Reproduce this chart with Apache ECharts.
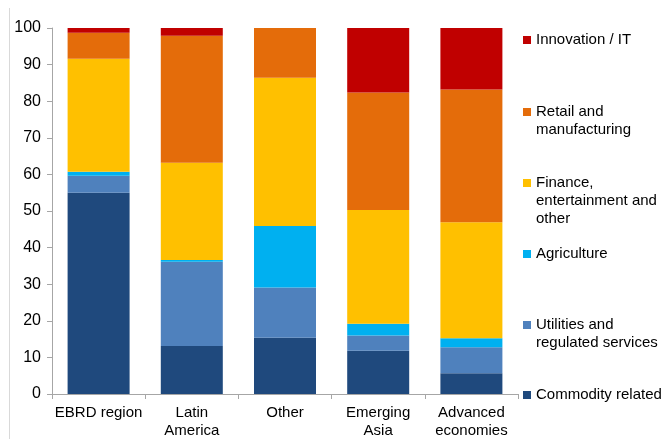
<!DOCTYPE html>
<html>
<head>
<meta charset="utf-8">
<script src="https://cdn.jsdelivr.net/npm/echarts@6/dist/echarts.min.js"></script>
<style>html,body{margin:0;padding:0;background:#fff}#c{width:667px;height:439px}</style>
</head>
<body>
<div id="c"></div>
<script>
var categories = ['EBRD region', 'Latin\nAmerica', 'Other', 'Emerging\nAsia', 'Advanced\neconomies'];
var commodity = [55.0, 13.1, 15.4, 11.8, 5.7];
var utilities = [4.6, 23.0, 13.7, 4.2, 7.1];
var agriculture = [1.1, 0.5, 16.8, 3.2, 2.4];
var finance = [30.9, 26.6, 40.5, 31.1, 31.7];
var retail = [7.1, 34.7, 13.6, 32.1, 36.3];
var innovation = [1.3, 2.1, 0, 17.6, 16.8];
var yTicks = [0, 10, 20, 30, 40, 50, 60, 70, 80, 90, 100];

var seriesDefs = [
  {name: 'Commodity related', label: 'Commodity related', data: commodity, color: '#1F497D', lines: 1, top: 386},
  {name: 'Utilities and regulated services', label: 'Utilities and\nregulated services', data: utilities, color: '#4F81BD', lines: 2, top: 298},
  {name: 'Agriculture', label: 'Agriculture', data: agriculture, color: '#00B0F0', lines: 1, top: 245},
  {name: 'Finance, entertainment and other', label: 'Finance,\nentertainment and\nother', data: finance, color: '#FFC000', lines: 3, top: 138},
  {name: 'Retail and manufacturing', label: 'Retail and\nmanufacturing', data: retail, color: '#E46C0A', lines: 2, top: 85},
  {name: 'Innovation / IT', label: 'Innovation / IT', data: innovation, color: '#C00000', lines: 1, top: 31}
];

var LH = 18;
var FONT = 'Liberation Sans';
var chart = echarts.init(document.getElementById('c'));
var legends = seriesDefs.map(function (s) {
  var pre = '';
  for (var i = 1; i < s.lines; i++) pre += ' \n';
  return {
    data: [s.name],
    left: 523,
    top: s.top,
    padding: 0,
    itemWidth: 8,
    itemHeight: 8,
    itemGap: 0,
    icon: 'rect',
    selectedMode: false,
    formatter: function () { return pre + s.label; },
    textStyle: {fontFamily: FONT, fontSize: 15, color: '#000', lineHeight: LH},
    itemStyle: {borderWidth: 0}
  };
});

chart.setOption({
  animation: false,
  backgroundColor: '#fff',
  textStyle: {fontFamily: FONT},
  grid: {left: 52, right: 149, top: 28, bottom: 45, containLabel: false, outerBoundsMode: 'none'},
  legend: legends,
  graphic: [{
    type: 'line', shape: {x1: 9.5, y1: 8, x2: 9.5, y2: 439},
    style: {stroke: '#D9D9D9', lineWidth: 1}, silent: true
  }],
  xAxis: {
    type: 'category',
    data: categories,
    axisLine: {lineStyle: {color: '#A6A6A6', width: 1}},
    axisTick: {show: true, length: 5, alignWithLabel: false, lineStyle: {color: '#A6A6A6'}},
    axisLabel: {fontFamily: FONT, fontSize: 15, color: '#000', lineHeight: LH, margin: 10, interval: 0}
  },
  yAxis: {
    type: 'value',
    min: yTicks[0], max: yTicks[yTicks.length - 1], interval: 10,
    splitLine: {show: false},
    axisLine: {show: true, lineStyle: {color: '#A6A6A6', width: 1}},
    axisTick: {show: true, length: 5, lineStyle: {color: '#A6A6A6'}},
    axisLabel: {fontFamily: FONT, fontSize: 16, color: '#000', margin: 11}
  },
  series: seriesDefs.map(function (s) {
    return {
      name: s.name, type: 'bar', stack: 'total', data: s.data,
      barWidth: 62, itemStyle: {color: s.color}
    };
  })
});
</script>
</body>
</html>
